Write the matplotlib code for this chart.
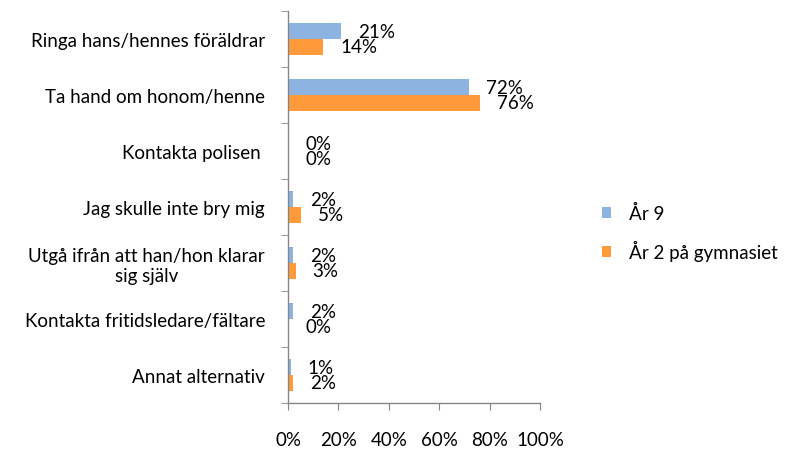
import matplotlib
matplotlib.use("Agg")
import matplotlib.pyplot as plt
import numpy as np

plt.rcParams['font.family'] = ['Lato', 'DejaVu Sans']

categories = [
    "Ringa hans/hennes föräldrar",
    "Ta hand om honom/henne",
    "Kontakta polisen ",
    "Jag skulle inte bry mig",
    "Utgå ifrån att han/hon klarar\nsig själv",
    "Kontakta fritidsledare/fältare",
    "Annat alternativ",
]
series_names = ["År 9", "År 2 på gymnasiet"]
ar9 = [21, 72, 0, 2, 2, 2, 1]
ar2 = [14, 76, 0, 5, 3, 0, 2]
xticks = [0, 20, 40, 60, 80, 100]
xticklabels = ["0%", "20%", "40%", "60%", "80%", "100%"]

blue = "#8DB3E2"
orange = "#FF9A3A"
axis_gray = "#868686"
fs = 13.5

fig = plt.figure(figsize=(7.91, 4.52), dpi=100)
ax = fig.add_axes([288/791, 48/452, 252/791, 392/452])

n = len(categories)
y = np.arange(n)
h = 0.285
b1 = ax.barh(y - h/2, ar9, height=h, color=blue, label=series_names[0])
b2 = ax.barh(y + h/2, ar2, height=h, color=orange, label=series_names[1])

for vals, offs in ((ar9, -h/2), (ar2, h/2)):
    for yi, v in zip(y, vals):
        ax.annotate(f"{v}%", xy=(v, yi + offs), xytext=(17, 0),
                    textcoords="offset pixels", ha="left", va="center",
                    fontsize=fs, color="#000000")

ax.set_ylim(n - 0.5, -0.5)
ax.set_xlim(0, 100)

ax.set_yticks(y)
ax.set_yticklabels(categories, fontsize=fs, multialignment="center")
ax.set_yticks(np.arange(-0.5, n, 1), minor=True)
ax.tick_params(axis="y", which="major", length=0, pad=16.5)
ax.tick_params(axis="y", which="minor", length=5, color=axis_gray, direction="out")

ax.set_xticks(xticks)
ax.set_xticklabels(xticklabels, fontsize=fs)
ax.tick_params(axis="x", length=5, color=axis_gray, direction="out", pad=15)

for s in ["top", "right"]:
    ax.spines[s].set_visible(False)
for s in ["left", "bottom"]:
    ax.spines[s].set_color(axis_gray)
    ax.spines[s].set_linewidth(1.0)

leg = fig.legend(handles=[b1, b2], labels=series_names, loc="upper left",
                 bbox_to_anchor=(585/791, 1 - 188/452), frameon=False,
                 fontsize=fs, handlelength=0.5, handleheight=0.5,
                 handletextpad=0.95, labelspacing=0.95)

fig.savefig("out.png", dpi=100)
